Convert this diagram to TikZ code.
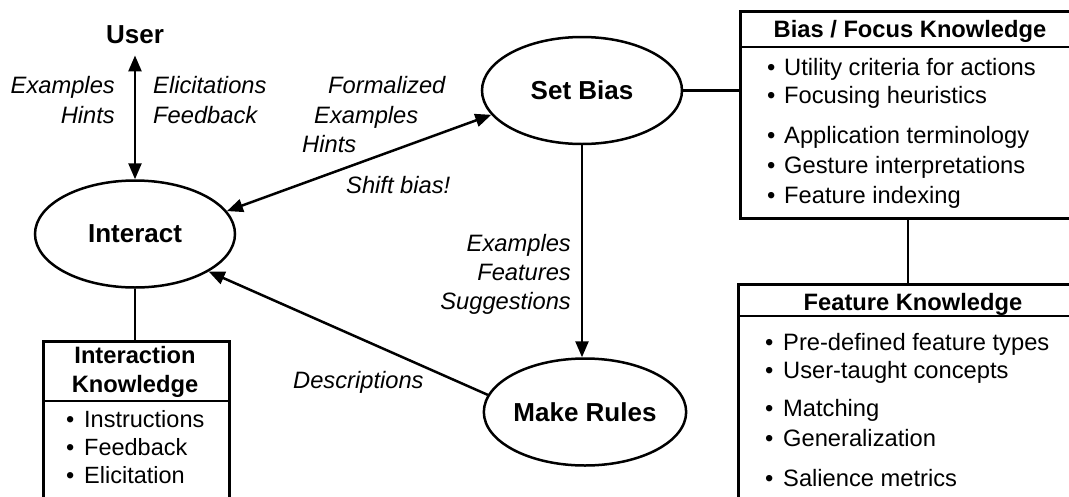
\documentclass[tikz,border=0pt]{standalone}
\usepackage{fontspec}
\setmainfont{Liberation Sans}
\usetikzlibrary{shapes.geometric,arrows.meta}
\tikzset{
  proc/.style={ellipse, draw, line width=2.5pt, inner sep=0pt,
    minimum width=200pt, minimum height=107pt,
    font=\fontsize{26}{31}\selectfont\bfseries},
  kbox/.style={rectangle, draw, line width=2.6pt, inner sep=0pt, anchor=north west},
  lab/.style={inner sep=0pt, font=\fontsize{23.7}{28}\selectfont\itshape},
  hdr/.style={inner sep=0pt, anchor=base, font=\fontsize{23.7}{28}\selectfont\bfseries},
  itm/.style={inner sep=0pt, anchor=base west, font=\fontsize{23.7}{28}\selectfont},
  flow/.style={line width=2.5pt, ->},
  flowboth/.style={line width=2.5pt, <->},
  link/.style={line width=2.5pt}
}
\begin{document}
\begin{tikzpicture}[x=1pt, y=-1pt, >={Triangle[length=16pt,width=13pt]}]
\clip (0,0) rectangle (1069,496);

% processes
\node[proc] (in) at (135,234) {Interact};
\node[proc] (sb) at (582,90.5) {Set Bias};
\node[proc] (mr) at (585,412) {Make Rules};
\node[inner sep=0pt, anchor=base, font=\fontsize{26}{31}\selectfont\bfseries] (user) at (135,43) {User};

% knowledge stores
\node[kbox, minimum width=186pt, minimum height=200pt] (ik) at (42,340) {};
\node[kbox, minimum width=345pt, minimum height=207pt] (bk) at (739,10) {};
\node[kbox, minimum width=352pt, minimum height=240pt] (fk) at (737,283) {};
\draw[link] ([yshift=-61pt]ik.north west) -- ([yshift=-61pt]ik.north east);
\draw[link] ([yshift=-37pt]bk.north west) -- ([yshift=-37pt]bk.north east);
\draw[link] ([yshift=-33pt]fk.north west) -- ([yshift=-33pt]fk.north east);

% headers
\node[hdr] (ikh1) at (135,363) {Interaction};
\node[hdr] (ikh2) at (135,392) {Knowledge};
\node[hdr] (bkh) at (910,37) {Bias / Focus Knowledge};
\node[hdr] (fkh) at (913,310) {Feature Knowledge};

% contents
\foreach \t/\y [count=\i] in {Instructions/427,Feedback/455,Elicitation/483}
  \node[itm, font=\fontsize{23.5}{28}\selectfont] (ik\i) at (66,\y) {\makebox[18pt][l]{\textbullet}\t};
\foreach \t/\y [count=\i] in {Utility criteria for actions/75,Focusing heuristics/103,Application terminology/143,Gesture interpretations/173,Feature indexing/203}
  \node[itm] (bk\i) at (767,\y) {\makebox[17pt][l]{\textbullet}\t};
\foreach \t/\y [count=\i] in {Pre-defined feature types/350,User-taught concepts/378,Matching/416,Generalization/446,Salience metrics/486}
  \node[itm] (fk\i) at (765,\y) {\makebox[18pt][l]{\textbullet}\t};

% connectors
\draw[flowboth, shorten <=12pt] (user.south) -- (user.south |- in.north);
\draw[flowboth] (in.14) -- (sb.195);
\draw[flow] (sb.south) -- (sb.south |- mr.north);
\draw[flow] (mr.170) -- (in.-27);
\draw[link] (in.south) -- (in.south |- ik.north);
\draw[link] (sb.east) -- (sb.east -| bk.west);
\draw[link] ([xshift=169pt]bk.south west) -- ([xshift=171pt]fk.north west);

% flow labels
\node[lab, anchor=base east] (l1) at (115,93) {Examples};
\node[lab, anchor=base east] (l2) at (115,123) {Hints};
\node[lab, anchor=base west] (l3) at (153,93) {Elicitations};
\node[lab, anchor=base west] (l4) at (153,123) {Feedback};
\node[lab, anchor=base west] (l5) at (328,93) {Formalized};
\node[lab, anchor=base west] (l6) at (314,123) {Examples};
\node[lab, anchor=base west] (l7) at (302,152) {Hints};
\node[lab, anchor=base west] (l8) at (346,193) {Shift bias!};
\node[lab, anchor=base east] (l9) at (571,251) {Examples};
\node[lab, anchor=base east] (l10) at (571,280) {Features};
\node[lab, anchor=base east] (l11) at (571,309) {Suggestions};
\node[lab, anchor=base west] (l12) at (293,388) {Descriptions};
\end{tikzpicture}
\end{document}
